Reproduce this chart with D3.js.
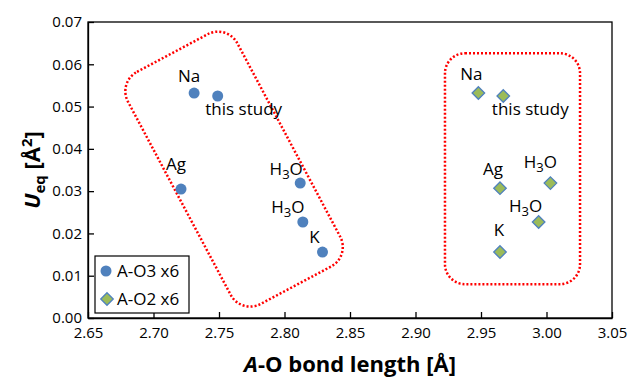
<!DOCTYPE html>
<html>
<head>
<meta charset="utf-8">
<script src="https://cdn.jsdelivr.net/npm/d3@7"></script>
<style>
  body { margin: 0; background: #fff; }
  text { font-family: "Open Sans", "Noto Sans", sans-serif; fill: #000; }
</style>
</head>
<body>
<div id="chart"></div>
<script>
// values
var xTicks = [2.65, 2.70, 2.75, 2.80, 2.85, 2.90, 2.95, 3.00, 3.05];
var yTicks = [0, 0.01, 0.02, 0.03, 0.04, 0.05, 0.06, 0.07];

var names = ["Na", "this study", "Ag", "H3O", "H3O", "K"];
var ao3Length = [2.731, 2.749, 2.721, 2.812, 2.814, 2.829];
var ao3Ueq    = [0.0532, 0.0525, 0.0305, 0.0319, 0.0227, 0.0156];
var ao2Length = [2.948, 2.967, 2.9645, 3.003, 2.994, 2.9645];
var ao2Ueq    = [0.0532, 0.0525, 0.0307, 0.0319, 0.0227, 0.0156];

// label nudges (px) like dragged excel data labels
var ao3LabelShift = [[-5, -11], [26, 19], [-5, -19], [-14, -8], [-15, -9], [-8, -9]];
var ao2LabelShift = [[-7, -13], [27, 19], [-7, -13], [-10, -15], [-13, -10], [-1, -16]];

var seriesNames = ["A-O3 x6", "A-O2 x6"];

var width = 632, height = 379;
var margin = {top: 22, right: 20, bottom: 61, left: 88};

var svg = d3.select("#chart").append("svg")
    .attr("width", width)
    .attr("height", height);

var x = d3.scaleLinear().domain([2.65, 3.05]).range([margin.left, width - margin.right]);
var y = d3.scaleLinear().domain([0, 0.07]).range([height - margin.bottom, margin.top]);

var blue = "#4f81bd", green = "#9bbb59";

// frame
svg.append("rect")
    .attr("x", x(2.65)).attr("y", y(0.07))
    .attr("width", x(3.05) - x(2.65))
    .attr("height", y(0) - y(0.07))
    .attr("fill", "none")
    .attr("stroke", "#000")
    .attr("stroke-width", 1.3);

// axes, ticks pointing inward
var xAxis = svg.append("g")
    .attr("transform", "translate(0," + y(0) + ")")
    .call(d3.axisBottom(x).tickValues(xTicks).tickFormat(d3.format(".2f"))
        .tickSizeInner(-6).tickSizeOuter(0).tickPadding(8));
var yAxis = svg.append("g")
    .attr("transform", "translate(" + x(2.65) + ",0)")
    .call(d3.axisLeft(y).tickValues(yTicks).tickFormat(d3.format(".2f"))
        .tickSizeInner(-6).tickSizeOuter(0).tickPadding(6));

[xAxis, yAxis].forEach(function(g) {
  g.select(".domain").attr("stroke", "#000").attr("stroke-width", 1.3);
  g.selectAll(".tick line").attr("stroke", "#000").attr("stroke-width", 1.3);
  g.selectAll(".tick text").style("font-size", "15px").attr("fill", "#000");
});
xAxis.selectAll(".tick text").attr("dy", "0.8em");
yAxis.selectAll(".tick text").attr("dy", "0.32em");

// red dotted outlines
var leftBox = {cx: 2.7615, cy: 0.0352};
svg.append("rect")
    .attr("x", -62).attr("y", -131.5)
    .attr("width", 124).attr("height", 263)
    .attr("rx", 22).attr("ry", 22)
    .attr("transform", "translate(" + x(leftBox.cx) + "," + y(leftBox.cy) + ") rotate(-28)")
    .attr("fill", "none")
    .attr("stroke", "#ff0000")
    .attr("stroke-width", 2.5)
    .attr("stroke-dasharray", "2 2");

var rightBox = {x0: 2.9225, x1: 3.0256, y0: 0.0080, y1: 0.0626};
svg.append("rect")
    .attr("x", x(rightBox.x0)).attr("y", y(rightBox.y1))
    .attr("width", x(rightBox.x1) - x(rightBox.x0))
    .attr("height", y(rightBox.y0) - y(rightBox.y1))
    .attr("rx", 20).attr("ry", 20)
    .attr("fill", "none")
    .attr("stroke", "#ff0000")
    .attr("stroke-width", 2.5)
    .attr("stroke-dasharray", "2 2");

var ao3 = names.map(function(n, i) { return {name: n, x: ao3Length[i], y: ao3Ueq[i], s: ao3LabelShift[i]}; });
var ao2 = names.map(function(n, i) { return {name: n, x: ao2Length[i], y: ao2Ueq[i], s: ao2LabelShift[i]}; });

// markers
svg.selectAll("circle.ao3").data(ao3).enter().append("circle")
    .attr("class", "ao3")
    .attr("cx", function(d) { return x(d.x); })
    .attr("cy", function(d) { return y(d.y); })
    .attr("r", 5.5)
    .attr("fill", blue);

var diamond = d3.symbol().type(d3.symbolDiamond2).size(100);
svg.selectAll("path.ao2").data(ao2).enter().append("path")
    .attr("class", "ao2")
    .attr("d", diamond)
    .attr("transform", function(d) { return "translate(" + x(d.x) + "," + y(d.y) + ")"; })
    .attr("fill", green)
    .attr("stroke", blue)
    .attr("stroke-width", 1.3);

// data labels
function addLabels(data) {
  data.forEach(function(d) {
    var t = svg.append("text")
        .attr("x", x(d.x) + d.s[0])
        .attr("y", y(d.y) + d.s[1])
        .attr("text-anchor", "middle")
        .style("font-size", "17px");
    if (d.name === "H3O") {
      t.append("tspan").text("H");
      t.append("tspan").text("3").attr("dy", 4).style("font-size", "13px");
      t.append("tspan").text("O").attr("dy", -4);
    } else {
      t.text(d.name);
    }
  });
}
addLabels(ao3);
addLabels(ao2);

// legend
var lg = svg.append("g").attr("transform", "translate(95,256)");
lg.append("rect")
    .attr("width", 94).attr("height", 57)
    .attr("fill", "#fff")
    .attr("stroke", "#000")
    .attr("stroke-width", 1.2);
lg.append("circle").attr("cx", 11).attr("cy", 15).attr("r", 5.5).attr("fill", blue);
lg.append("path").attr("d", diamond)
    .attr("transform", "translate(12,43)")
    .attr("fill", green).attr("stroke", blue).attr("stroke-width", 1.3);
lg.selectAll("text.lab").data(seriesNames).enter().append("text")
    .attr("x", 22)
    .attr("y", function(d, i) { return 21 + i * 28; })
    .style("font-size", "17px")
    .text(function(d) { return d; });

// axis titles
var xt = svg.append("text")
    .attr("x", (x(2.65) + x(3.05)) / 2)
    .attr("y", 372)
    .attr("text-anchor", "middle")
    .style("font-size", "22px")
    .style("font-weight", "bold");
xt.append("tspan").text("A").style("font-style", "italic");
xt.append("tspan").text("-O bond length [Å]");

var yt = svg.append("text")
    .attr("transform", "translate(40," + ((y(0) + y(0.07)) / 2) + ") rotate(-90)")
    .attr("text-anchor", "middle")
    .style("font-size", "22px")
    .style("font-weight", "bold");
yt.append("tspan").text("U").style("font-style", "italic");
yt.append("tspan").text("eq").attr("dy", 5).style("font-size", "15px");
yt.append("tspan").text(" [Å").attr("dy", -5);
yt.append("tspan").text("2").attr("dy", -8).style("font-size", "15px");
yt.append("tspan").text("]").attr("dy", 8);
</script>
</body>
</html>
